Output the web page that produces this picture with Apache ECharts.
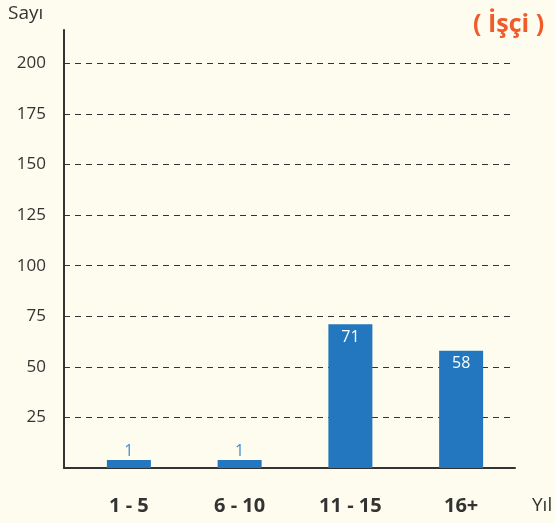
<!DOCTYPE html>
<html>
<head>
<meta charset="utf-8">
<script src="https://cdn.jsdelivr.net/npm/echarts@6/dist/echarts.min.js"></script>
<style>
html,body{margin:0;padding:0;background:#FEFCEE;}
#c{width:555px;height:523px;}
</style>
</head>
<body>
<div id="c"></div>
<script>
const categories = ['1 - 5', '6 - 10', '11 - 15', '16+'];
const values = [1, 1, 71, 58];
const gridTicks = [25, 50, 75, 100, 125, 150, 175, 200];
const yMax = 216.5;

const chart = echarts.init(document.getElementById('c'));
const barData = values.map(v => ({
  value: v,
  label: v < 10
    ? { position: 'top', distance: 1, color: '#3f8fd6' }
    : { position: 'insideTop', distance: 5, color: '#ffffff' }
}));

chart.setOption({
  backgroundColor: '#FEFCEE',
  animation: false,
  grid: [
    { left: 64, top: 30, width: 451, height: 438 },
    { left: 73.5, top: 30, width: 443, height: 438 }
  ],
  xAxis: [
    { gridIndex: 0, type: 'category', data: categories,
      axisLine: { lineStyle: { color: '#333', width: 2 } },
      axisTick: { show: false }, axisLabel: { show: false } },
    { gridIndex: 1, type: 'category', data: categories,
      axisLine: { show: false }, axisTick: { show: false },
      axisLabel: { margin: 28, fontFamily: 'Open Sans', fontWeight: 'bold', fontSize: 20, color: '#333' } }
  ],
  yAxis: [
    { gridIndex: 0, type: 'value', min: 0, max: yMax, interval: 25,
      axisLine: { show: true, lineStyle: { color: '#333', width: 2 } },
      axisTick: { show: false }, splitLine: { show: false },
      axisLabel: { showMinLabel: false, showMaxLabel: false, margin: 18,
        fontFamily: 'Open Sans', fontSize: 17, color: '#333' } },
    { gridIndex: 1, type: 'value', min: 0, max: yMax, show: false, splitLine: { show: false } }
  ],
  series: [
    { type: 'line', xAxisIndex: 0, yAxisIndex: 0, data: [], silent: true, z: 1,
      markLine: { symbol: 'none', silent: true, label: { show: false },
        lineStyle: { type: [6, 5], color: '#333', width: 1 },
        data: gridTicks.map(v => ({ yAxis: v })) } },
    { type: 'bar', xAxisIndex: 1, yAxisIndex: 1, data: barData, barWidth: 44,
      barMinHeight: 8, z: 5,
      itemStyle: { color: '#2277BE' },
      label: { show: true, fontFamily: 'Open Sans', fontSize: 16 } }
  ],
  graphic: [
    { type: 'text', x: 8, y: 14, style: { text: 'Sayı', font: '19px "Open Sans"', fill: '#333', textVerticalAlign: 'middle' } },
    { type: 'text', x: 532, y: 506, style: { text: 'Yıl', font: '19px "Open Sans"', fill: '#333', textVerticalAlign: 'middle' } },
    { type: 'text', x: 473, y: 25, style: { text: '( İşçi )', font: 'bold 25px "Open Sans"', fill: '#F15A2B', textVerticalAlign: 'middle' } }
  ]
});
</script>
</body>
</html>
